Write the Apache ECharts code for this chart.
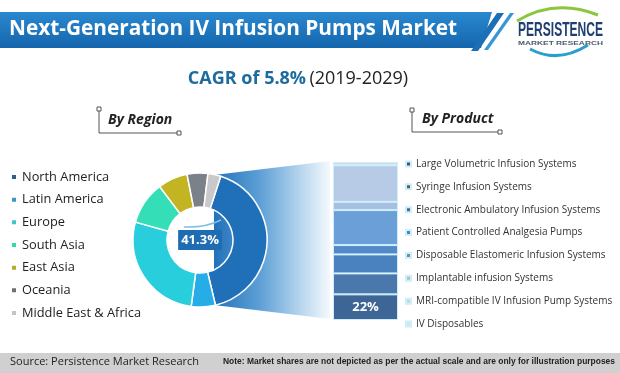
<!DOCTYPE html>
<html>
<head>
<meta charset="utf-8">
<script src="https://cdn.jsdelivr.net/npm/echarts@6/dist/echarts.min.js"></script>
<style>
html,body{margin:0;padding:0;background:#fff;}
#chart{width:620px;height:373px;}
</style>
</head>
<body>
<div id="chart"></div>
<script>
// ---- data ----
const titleText = 'Next-Generation IV Infusion Pumps Market';
const cagrText = 'CAGR of 5.8%';
const periodText = '(2019-2029)';
const regionHeading = 'By Region';
const productHeading = 'By Product';
const regionNames = ['North America', 'Latin America', 'Europe', 'South Asia', 'East Asia', 'Oceania', 'Middle East & Africa'];
const regionShares = [41.3, 5.8, 27.2, 10.4, 7.2, 5.0, 3.1];
const productNames = ['Large Volumetric Infusion Systems', 'Syringe Infusion Systems', 'Electronic Ambulatory Infusion Systems', 'Patient Controlled Analgesia Pumps', 'Disposable Elastomeric Infusion Systems', 'Implantable infusion Systems', 'MRI-compatible IV Infusion Pump Systems', 'IV Disposables'];
const productValues = [22, 18, 16.3, 8, 30, 7.1, 31.4, 2.8];
const sourceText = 'Source: Persistence Market Research';
const noteText = 'Note: Market shares are not depicted as per the actual scale and are only for illustration purposes';

// ---- styles ----
const regionColors = ['#1f70b8', '#26ade6', '#28cedb', '#34dfb8', '#c3b421', '#7b8189', '#c9c9cb'];
const regionLegendColors = ['#2f5d94', '#3a98c4', '#3cc6cf', '#38d6ae', '#b3ad2c', '#6d7074', '#c4c4c4'];
const productColors = ['#3d6697', '#4a78ad', '#4a82c0', '#5389c9', '#6a9fd8', '#a6c0e2', '#b8cbe6', '#d0dbec'];
const productLegendColors = ['#3d5673', '#56606a', '#4b6a88', '#3a8cc4', '#6c8fae', '#b4bcc4', '#cdd1d6', '#dfe2e5'];

function textWidth(t, font) {
  const c = document.createElement('canvas').getContext('2d');
  c.font = font;
  return c.measureText(t).width;
}

const chart = echarts.init(document.getElementById('chart'), null, {renderer: 'canvas'});

const logoFont = 'bold 21px "Liberation Sans"';
const logoScale = 85 / textWidth('PERSISTENCE', logoFont);
const logoSubFont = 'bold 6px "Liberation Sans"';
const logoSubScale = 85 / textWidth('MARKET RESEARCH', logoSubFont);
const noteFont = 'bold 8.5px "Liberation Sans"';
const noteScale = 392 / textWidth(noteText, noteFont);

function bracket(x1, y1, x2, y2) {
  return [
    {type: 'polyline', shape: {points: [[x1 + 2, y1 + 2], [x1 + 2, y2 + 2], [x2, y2 + 2]]}, style: {stroke: '#555', lineWidth: 1, fill: null}},
    {type: 'rect', shape: {x: x1, y: y1, width: 4, height: 4}, style: {fill: '#fff', stroke: '#555', lineWidth: 1}},
    {type: 'rect', shape: {x: x2, y: y2, width: 4, height: 4}, style: {fill: '#fff', stroke: '#555', lineWidth: 1}}
  ];
}

const graphics = [
  // title banner
  {type: 'polygon', shape: {points: [[0, 12], [492, 12], [481, 48], [0, 48]]},
   style: {fill: new echarts.graphic.LinearGradient(0, 0, 0, 1, [{offset: 0, color: '#2a88cf'}, {offset: 1, color: '#1466ad'}])}},
  {type: 'polygon', shape: {points: [[497, 13], [504, 13], [478, 51], [471, 51]]}, style: {fill: '#1a6fb6'}},
  {type: 'polygon', shape: {points: [[510, 13], [514, 13], [488, 50], [484, 50]]}, style: {fill: '#3a95d6'}},
  {type: 'text', x: 9, y: 29, style: {text: titleText, fill: '#fff', font: 'bold 20.8px "Open Sans"', textAlign: 'left', textVerticalAlign: 'middle'}},
  // logo
  {type: 'bezierCurve', shape: {x1: 517, y1: 21, cpx1: 555, cpy1: -2, x2: 598, y2: 15}, style: {stroke: '#8cc63f', lineWidth: 3, fill: null}},
  {type: 'bezierCurve', shape: {x1: 530, y1: 49, cpx1: 558, cpy1: 64, x2: 588, y2: 45}, style: {stroke: '#2a9fcb', lineWidth: 3, fill: null}},
  {type: 'text', x: 518, y: 30, scaleX: logoScale, originX: 0, originY: 0, style: {text: 'PERSISTENCE', fill: '#1f3f70', font: logoFont, textAlign: 'left', textVerticalAlign: 'middle'}},
  {type: 'text', x: 518, y: 43, scaleX: logoSubScale, originX: 0, originY: 0, style: {text: 'MARKET RESEARCH', fill: '#4a5a6a', font: logoSubFont, textAlign: 'left', textVerticalAlign: 'middle'}},
  // CAGR
  {type: 'text', x: 298, y: 79, style: {text: '{a|' + cagrText + '} {b|' + periodText + '}', textAlign: 'center', textVerticalAlign: 'middle',
    rich: {a: {font: 'bold 18px "Open Sans"', fill: '#1e6b9e'}, b: {font: '18px "Open Sans"', fill: '#222'}}}},
  // headings
  ...bracket(97, 107, 177, 131),
  {type: 'text', x: 108, y: 120, style: {text: regionHeading, fill: '#222', font: 'italic bold 14px "Open Sans"', textAlign: 'left', textVerticalAlign: 'middle'}},
  ...bracket(410, 108, 498, 130),
  {type: 'text', x: 422, y: 119, style: {text: productHeading, fill: '#222', font: 'italic bold 14px "Open Sans"', textAlign: 'left', textVerticalAlign: 'middle'}},
  // funnel link
  {type: 'polygon', z: 0, shape: {points: [[214, 175], [330, 161], [330, 319], [214, 305]]},
   style: {fill: new echarts.graphic.LinearGradient(0, 0, 1, 0, [{offset: 0, color: '#2272ba'}, {offset: 0.4, color: '#5ea0d6'}, {offset: 0.75, color: '#b8d6ee'}, {offset: 1, color: '#f4f9fd'}])}},
  // donut swoosh
  {type: 'bezierCurve', z: 10, shape: {x1: 184, y1: 227, cpx1: 205, cpy1: 228, x2: 221, y2: 220}, style: {stroke: '#7cc0e8', lineWidth: 1.5, fill: null}},
  // footer
  {type: 'rect', shape: {x: 0, y: 353, width: 620, height: 20}, style: {fill: '#d0d0d0'}},
  {type: 'text', x: 10, y: 362, style: {text: sourceText, fill: '#222', font: '11px "Open Sans"', textAlign: 'left', textVerticalAlign: 'middle'}},
  {type: 'text', x: 223, y: 362, scaleX: noteScale, originX: 0, originY: 0, style: {text: noteText, fill: '#222', font: noteFont, textAlign: 'left', textVerticalAlign: 'middle'}}
];

const pieData = regionNames.map((n, i) => {
  const d = {name: n, value: regionShares[i], itemStyle: {color: regionColors[i]}};
  if (i === 0) {
    d.label = {show: true, position: 'center', formatter: p => p.value + '%', color: '#fff', fontWeight: 'bold', fontSize: 13,
      fontFamily: 'Open Sans', backgroundColor: '#1f6cb2', padding: [4, 3, 3, 3]};
  }
  return d;
});

const barSeries = productNames.map((n, i) => ({
  name: n, type: 'bar', stack: 'p', barWidth: '100%', data: [productValues[i]],
  itemStyle: {color: productColors[i], borderColor: '#cdeefb', borderWidth: 1},
  label: i === 0 ? {show: true, position: 'inside', formatter: p => p.value + '%', color: '#fff', fontWeight: 'bold', fontSize: 13, fontFamily: 'Open Sans'} : {show: false},
  emphasis: {disabled: true}, silent: true
}));

const option = {
  animation: false,
  graphic: {elements: graphics},
  legend: [
    {orient: 'vertical', left: 10, top: 170, padding: 0, itemWidth: 6, itemHeight: 6, itemGap: 8.67, icon: 'rect',
     data: regionNames.map((n, i) => ({name: n, itemStyle: {color: regionLegendColors[i]}})),
     textStyle: {fontSize: 12.8, lineHeight: 14, color: '#222', fontFamily: 'Open Sans'}, selectedMode: false},
    {orient: 'vertical', left: 405, top: 157, padding: 0, itemWidth: 5, itemHeight: 5, itemGap: 8.86, icon: 'rect',
     data: productNames.map((n, i) => ({name: n, itemStyle: {color: productLegendColors[i]}})),
     textStyle: {fontSize: 10, lineHeight: 14, color: '#333', fontFamily: 'Open Sans'}, selectedMode: false}
  ],
  grid: {left: 333, top: 162, width: 65, height: 158},
  xAxis: {type: 'category', data: ['share'], show: false},
  yAxis: {type: 'value', show: false, min: 0, max: v => v.max},
  series: [
    {type: 'pie', center: [200, 240], radius: [33, 67], startAngle: 72, clockwise: true, z: 3,
     data: pieData, label: {show: false}, labelLine: {show: false},
     itemStyle: {borderColor: '#fff', borderWidth: 1.5}, emphasis: {disabled: true}, silent: true},
    ...barSeries
  ]
};
chart.setOption(option);
</script>
</body>
</html>
